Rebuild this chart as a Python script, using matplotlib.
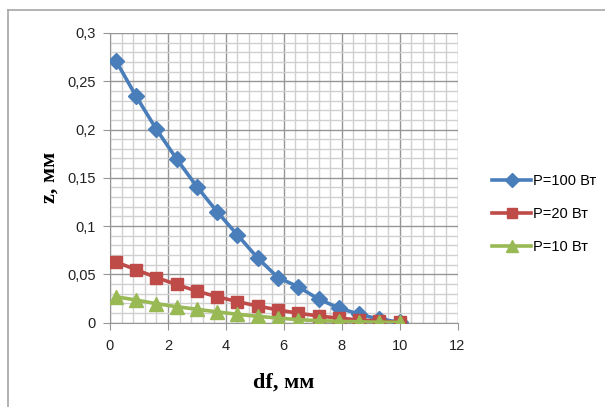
import matplotlib
matplotlib.use("Agg")
import matplotlib.pyplot as plt
from matplotlib.ticker import MultipleLocator, FuncFormatter
from matplotlib.lines import Line2D

df = [0.2, 0.9, 1.6, 2.3, 3.0, 3.7, 4.4, 5.1, 5.8, 6.5, 7.2, 7.9, 8.6, 9.3, 10.0]
z_100 = [0.2715, 0.2345, 0.2003, 0.1695, 0.1408, 0.1147, 0.0908, 0.0668, 0.0466,
         0.0370, 0.0243, 0.0151, 0.0086, 0.0034, 0.0005]
z_20 = [0.0627, 0.0548, 0.0466, 0.0394, 0.0325, 0.0267, 0.0216, 0.0171, 0.0130,
        0.0096, 0.0068, 0.0045, 0.0027, 0.0014, 0.0003]
z_10 = [0.0267, 0.0233, 0.0195, 0.0164, 0.0137, 0.0110, 0.0085, 0.0064, 0.0046,
        0.0030, 0.0019, 0.0012, 0.0007, 0.0003, 0.0001]
labels = ["P=100 Вт", "P=20 Вт", "P=10 Вт"]

W, H = 605, 407
fig = plt.figure(figsize=(W / 100, H / 100), dpi=100)
# outer chart border (only top and left edges visible in the crop)
fig.add_artist(Line2D([8 / W, 8 / W], [0, 1 - 10 / H], transform=fig.transFigure,
                      color="#A6A6A6", lw=1.2))
fig.add_artist(Line2D([8 / W, 1], [1 - 10 / H, 1 - 10 / H], transform=fig.transFigure,
                      color="#A6A6A6", lw=1.2))

L, R, T, B = 110, 457.5, 33, 322.5
ax = fig.add_axes([L / W, 1 - B / H, (R - L) / W, (B - T) / H])

ax.plot(df, z_100, color="#4A7EBB", lw=2.6, marker="D", ms=8.5, label=labels[0], zorder=3)
ax.plot(df, z_20, color="#BE4B48", lw=2.6, marker="s", ms=9, label=labels[1], zorder=4)
ax.plot(df, z_10, color="#98B954", lw=2.6, marker="^", ms=10, label=labels[2], zorder=5)

ax.set_xlim(0, 12)
ax.set_ylim(0, 0.3)
ax.xaxis.set_major_locator(MultipleLocator(2))
ax.xaxis.set_minor_locator(MultipleLocator(0.4))
ax.yaxis.set_major_locator(MultipleLocator(0.05))
ax.yaxis.set_minor_locator(MultipleLocator(0.01))
ax.grid(which="major", color="#969696", lw=1.0)
ax.grid(which="minor", color="#D0D0D0", lw=1.0)
ax.set_axisbelow(True)

def yfmt(v, p):
    if abs(v) < 1e-9:
        return "0"
    s = ("%.2f" % v).rstrip("0").rstrip(".")
    return s.replace(".", ",")
ax.yaxis.set_major_formatter(FuncFormatter(yfmt))
ax.xaxis.set_major_formatter(FuncFormatter(lambda v, p: "%d" % v))

for s in ["top", "right"]:
    ax.spines[s].set_visible(False)
ax.spines["left"].set_color("#969696")
ax.spines["bottom"].set_color("#969696")
ax.tick_params(which="major", length=5, color="#969696", labelsize=10.5,
               labelcolor="#222222", pad=5)
ax.tick_params(axis="x", pad=7)
ax.tick_params(which="minor", length=0)
for t in ax.get_xticklabels() + ax.get_yticklabels():
    t.set_family("Liberation Sans")

ax.set_xlabel("df, мм", family="Liberation Serif", fontweight="bold", fontsize=16, labelpad=14)
ax.set_ylabel("z, мм", family="Liberation Serif", fontweight="bold", fontsize=16, labelpad=6)

handles = ax.get_legend_handles_labels()[0]
fig.legend(handles, labels, loc="upper left", bbox_to_anchor=(486 / W, 1 - 168 / H),
           frameon=False, prop={"family": "Liberation Sans", "size": 10.5},
           handlelength=2.7, handletextpad=0.15, labelspacing=1.3, markerscale=0.85,
           borderaxespad=0)

fig.savefig("out.png", dpi=100)
